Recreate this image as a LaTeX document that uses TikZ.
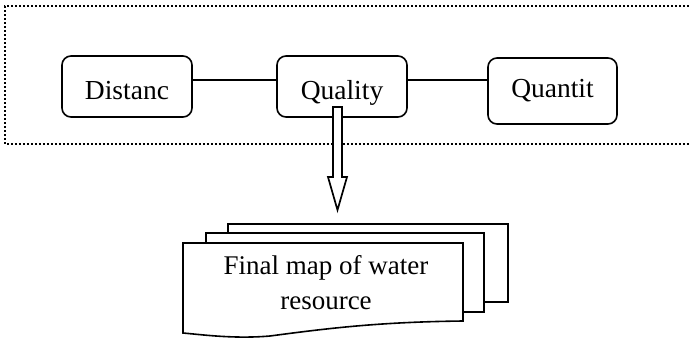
\documentclass[tikz,border=0pt]{standalone}
\usepackage{fontspec}
\setmainfont{Liberation Serif}
\tikzset{
  every picture/.style={x=1pt,y=-1pt},
  framebox/.style={line width=1.6pt, dash pattern=on 1.6pt off 2.4pt},
  roundbox/.style={draw, line width=1.6pt, rounded corners=9pt, fill=white,
    minimum width=130pt, inner sep=0pt, font=\fontsize{27.5}{31}\selectfont},
  link/.style={line width=1.6pt},
  arrowshape/.style={draw, line width=1.7pt, fill=white, line join=miter},
  paper/.style={draw, line width=1.6pt, fill=white},
  doctext/.style={align=center, font=\fontsize{27}{35}\selectfont, inner sep=0pt}
}
\begin{document}
\begin{tikzpicture}
\useasboundingbox (0,0) rectangle (689,338);
% dotted frame
\draw[framebox] (689,6) -- (5,6) -- (5,144) -- (689,144);
% boxes
\node[roundbox, minimum height=61pt, text height=25pt, text depth=0pt] (dist) at (127,86.5) {Distanc};
\node[roundbox, minimum height=61pt, text height=25pt, text depth=0pt] (qual) at (342,86.5) {Quality};
\node[roundbox, minimum width=129pt, minimum height=66pt, text height=12pt, text depth=0pt] (quan) at (552.5,91) {Quantit};
% connectors
\draw[link] ([yshift=6.5pt]dist.east) -- ([yshift=6.5pt]qual.west);
\draw[link] ([yshift=6.5pt]qual.east) -- ([yshift=6.5pt]qual.east -| quan.west);
% block arrow
\coordinate (atop) at (337.5,107);
\coordinate (atip) at (337.5,210);
\draw[arrowshape] ([xshift=-4.5pt]atop) -- ([xshift=4.5pt]atop) -- (342,177) -- (347,177) -- (atip) -- (328,177) -- (333,177) -- cycle;
% document stack
\draw[paper] (228,224) rectangle (508,302);
\draw[paper] (206,233) rectangle (484,312);
\draw[paper] (183,243) -- (463,243) -- (463,321)
  .. controls (380,322) and (330,328) .. (270,336)
  .. controls (235,339) and (205,335) .. (183,333) -- cycle;
\node[doctext] (doc) at (326,283) {Final map of water\\resource};
\end{tikzpicture}
\end{document}
